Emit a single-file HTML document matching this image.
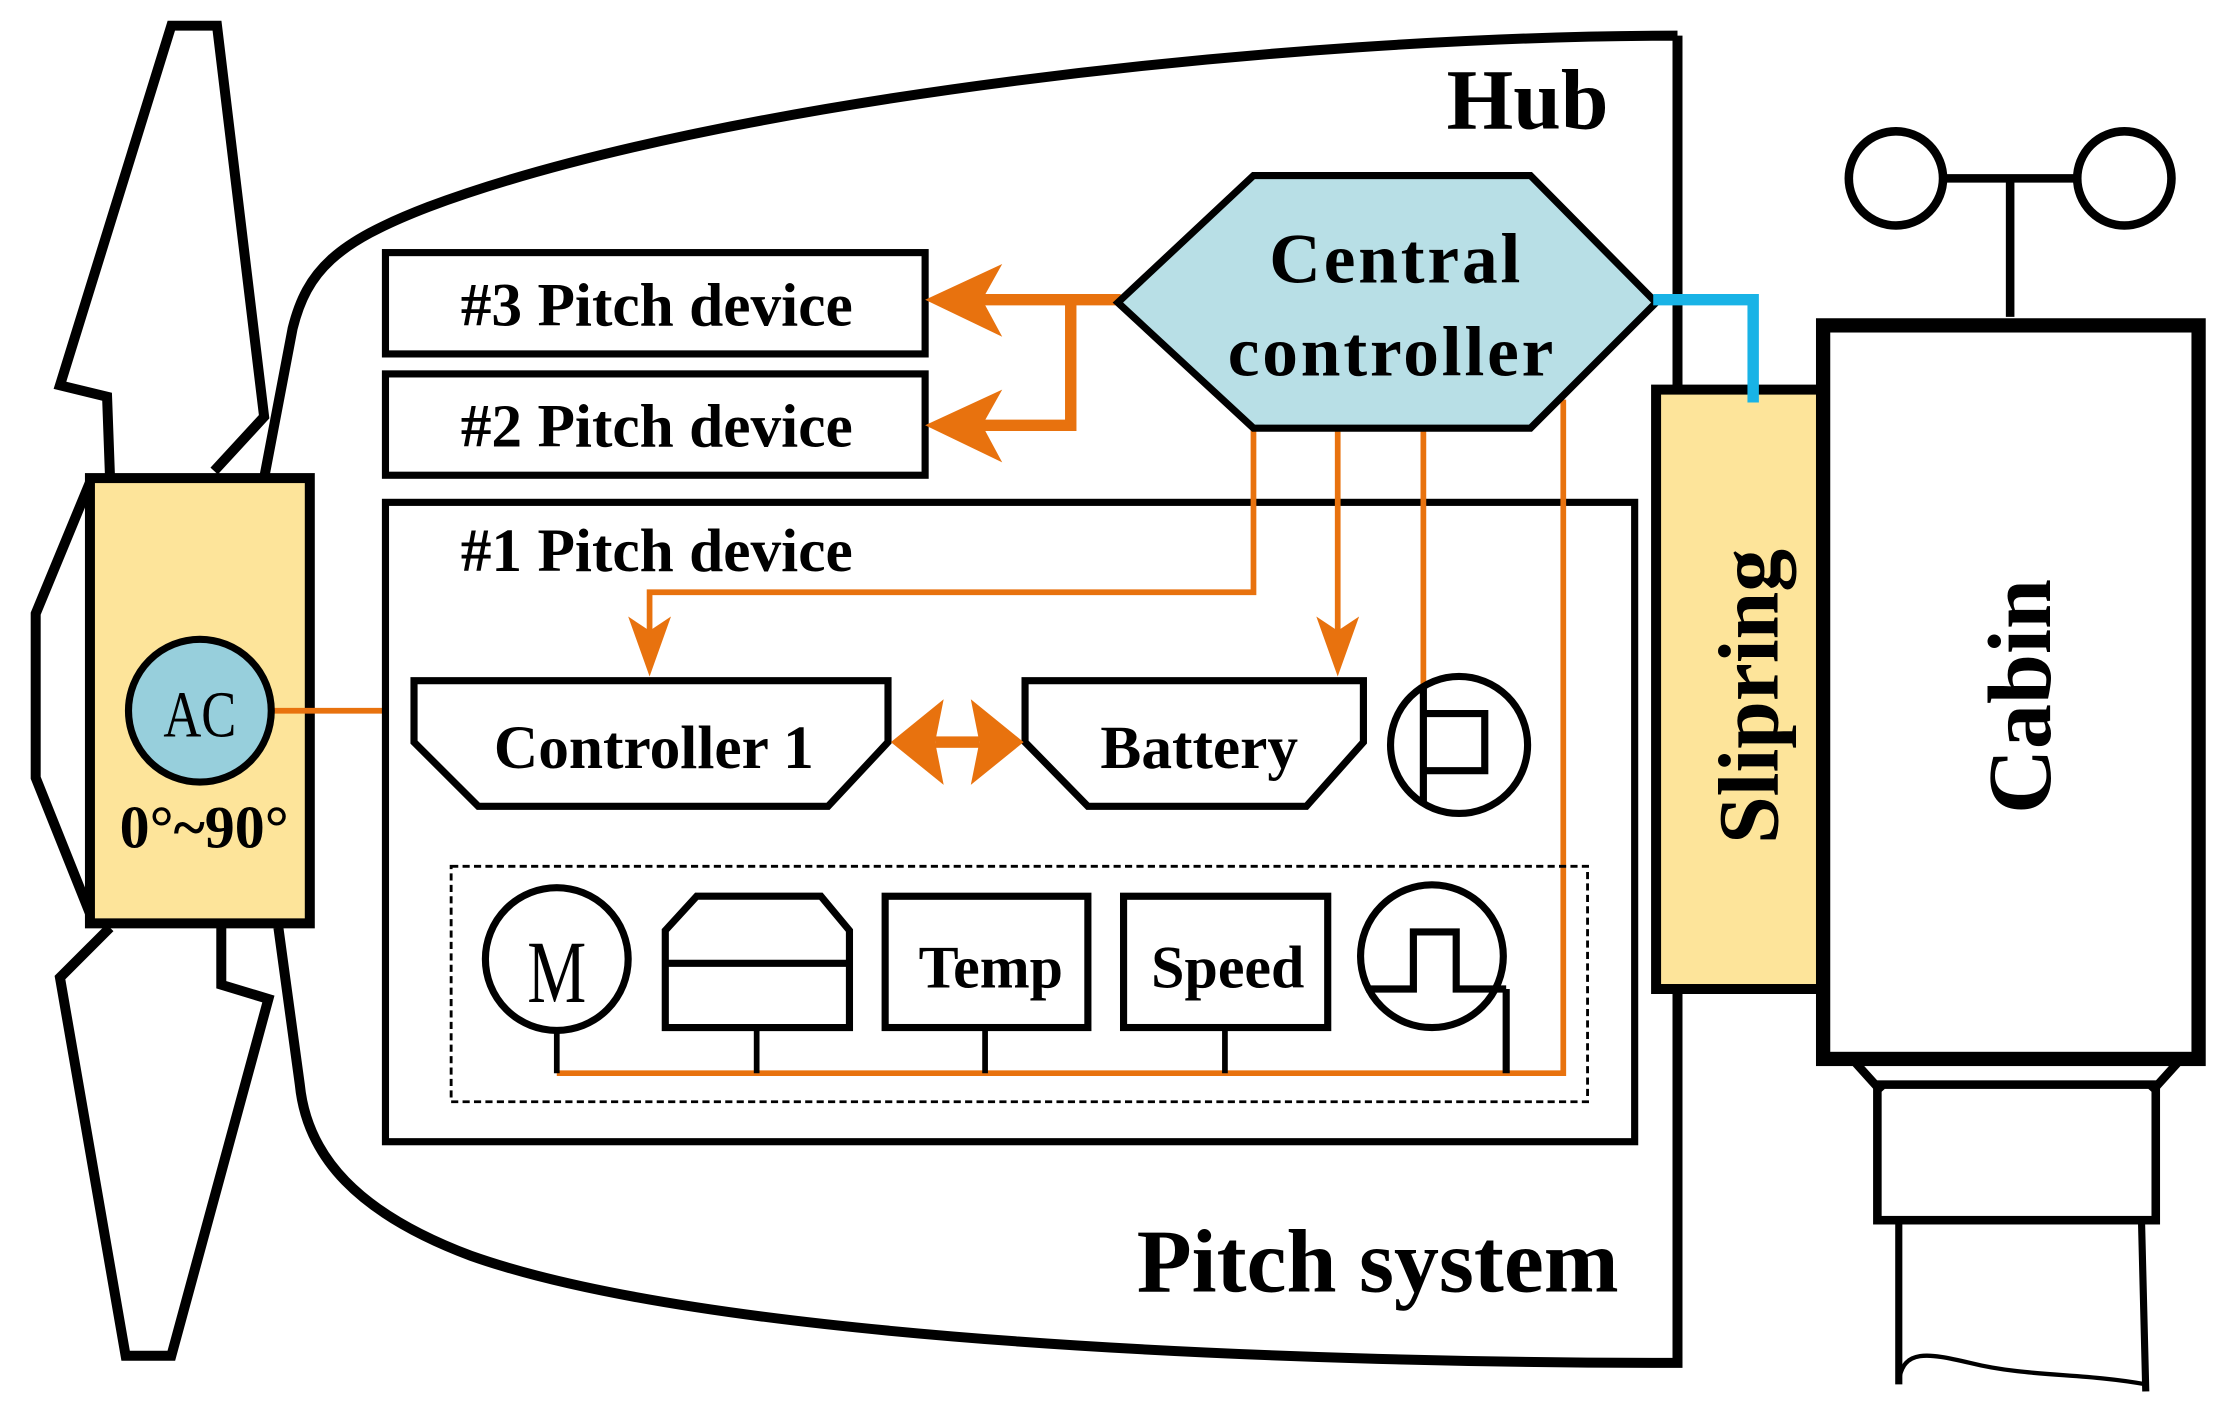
<!DOCTYPE html>
<html><head><meta charset="utf-8"><style>
html,body{margin:0;padding:0;background:#fff;}
svg{display:block;}
text{font-family:"Liberation Serif",serif;}
</style></head><body>
<svg width="2230" height="1420" viewBox="0 0 1562 995" preserveAspectRatio="none" xmlns="http://www.w3.org/2000/svg">
<g fill="none" stroke="#000" stroke-linejoin="miter">
<path d="M1175,25 L1175,955 C900,955 500,940 330,880 C250,850 215,810 210,760 L195,650 M185,335 L205,230 C215,190 235,170 300,145 C500,70 900,25 1175,25" stroke-width="7"/>
<path d="M77,333 L75,278 L42,270 L120,18 L152,18 L185,292 L150,330" stroke-width="7"/>
<path d="M77,650 L42,685 L88,950 L120,950 L188,700 L155,690 L155,650" stroke-width="7"/>
<path d="M63,338 L25,430 L25,545 L63,640" stroke-width="7"/>
</g>
<rect x="63" y="335" width="154" height="312" fill="#fde49a" stroke="#000" stroke-width="7"/>
<line x1="190" y1="498" x2="290" y2="498" stroke="#e8720e" stroke-width="4"/>
<circle cx="140" cy="498" r="50" fill="#97cfdc" stroke="#000" stroke-width="5"/>
<text x="140" y="516" font-size="46" text-anchor="middle" transform="translate(140 0) scale(0.8 1) translate(-140 0)">AC</text>
<text x="143" y="594" font-size="42" font-weight="bold" text-anchor="middle">0°~90°</text>

<text x="1070" y="90" font-size="60" font-weight="bold" text-anchor="middle">Hub</text>
<text x="965" y="905" font-size="63" font-weight="bold" text-anchor="middle">Pitch system</text>

<g fill="#fff" stroke="#000" stroke-width="5">
<rect x="270" y="177" width="378" height="71"/>
<rect x="270" y="262" width="378" height="71"/>
<rect x="270" y="352" width="875" height="448"/>
</g>
<text x="460" y="228" font-size="43" font-weight="bold" text-anchor="middle">#3 Pitch device</text>
<text x="460" y="313" font-size="43" font-weight="bold" text-anchor="middle">#2 Pitch device</text>
<text x="460" y="400" font-size="43" font-weight="bold" text-anchor="middle">#1 Pitch device</text>

<g fill="none" stroke="#e8720e" stroke-width="4">
<path d="M878,300 L878,415 L455,415 L455,450"/>
<path d="M937,300 L937,450"/>
<path d="M997,300 L997,485"/>
<path d="M1095,280 L1095,752 L390,752"/>
</g>
<g fill="#e8720e">
<polygon points="455,474 440,432 455,442 470,432"/>
<polygon points="937,474 922,432 937,442 952,432"/>
</g>
<g fill="none" stroke="#e8720e" stroke-width="8">
<path d="M785,210 L680,210"/>
<path d="M750,210 L750,298 L680,298"/>
</g>
<g fill="#e8720e">
<polygon points="648,210 702,185 688,210 702,236"/>
<polygon points="648,298 702,273 688,298 702,324"/>
</g>

<polygon points="783,212 878,123 1072,123 1160,212 1072,300 878,300" fill="#b8dfe6" stroke="#000" stroke-width="5"/>
<text x="978" y="198" font-size="50" font-weight="bold" text-anchor="middle" letter-spacing="2">Central</text>
<text x="975" y="263" font-size="50" font-weight="bold" text-anchor="middle" letter-spacing="2">controller</text>

<polygon points="290,477 622,477 622,520 580,565 335,565 290,520" fill="#fff" stroke="#000" stroke-width="5"/>
<polygon points="718,477 955,477 955,520 915,565 762,565 718,520" fill="#fff" stroke="#000" stroke-width="5"/>
<text x="458" y="538" font-size="43" font-weight="bold" text-anchor="middle">Controller 1</text>
<text x="840" y="538" font-size="43" font-weight="bold" text-anchor="middle">Battery</text>
<g fill="#e8720e">
<polygon points="624,520 661,490 655,520 661,550"/>
<polygon points="717,520 680,490 686,520 680,550"/>
<rect x="655" y="516" width="31" height="8"/>
</g>

<circle cx="1022" cy="522" r="48" fill="none" stroke="#000" stroke-width="5"/>
<path d="M997,480 L997,562 M997,500 L1040,500 L1040,540 L997,540" fill="none" stroke="#000" stroke-width="5"/>

<rect x="316" y="607" width="796" height="165" fill="none" stroke="#000" stroke-width="2" stroke-dasharray="5,3"/>

<g fill="none" stroke="#000" stroke-width="4">
<line x1="390" y1="722" x2="390" y2="752"/>
<line x1="530" y1="720" x2="530" y2="752"/>
<line x1="690" y1="720" x2="690" y2="752"/>
<line x1="858" y1="720" x2="858" y2="752"/>
<path d="M1055,693 L1055,752" stroke-width="5"/>
</g>
<g fill="#fff" stroke="#000" stroke-width="5">
<circle cx="390" cy="672" r="50"/>
<polygon points="466,652 488,628 575,628 595,652 595,720 466,720"/>
<rect x="620" y="628" width="142" height="92"/>
<rect x="787" y="628" width="143" height="92"/>
</g>
<line x1="466" y1="675" x2="595" y2="675" stroke="#000" stroke-width="5"/>
<circle cx="1003" cy="670" r="50" fill="none" stroke="#000" stroke-width="5"/>
<path d="M957,693 L990,693 L990,653 L1020,653 L1020,693 L1055,693" fill="none" stroke="#000" stroke-width="5"/>
<text x="390" y="702" font-size="62" text-anchor="middle" transform="translate(390 0) scale(0.75 1) translate(-390 0)">M</text>
<text x="694" y="692" font-size="42" font-weight="bold" text-anchor="middle">Temp</text>
<text x="860" y="692" font-size="42" font-weight="bold" text-anchor="middle">Speed</text>

<rect x="1160" y="273" width="127" height="420" fill="#fde49a" stroke="#000" stroke-width="7"/>
<path d="M1158,210 L1228,210 L1228,282" fill="none" stroke="#19b3e6" stroke-width="8"/>
<text transform="translate(1245 488) rotate(-90)" font-size="60" font-weight="bold" text-anchor="middle">Slipring</text>

<rect x="1277" y="228" width="263" height="514" fill="#fff" stroke="#000" stroke-width="10"/>
<text transform="translate(1436 488) rotate(-90)" font-size="63" font-weight="bold" text-anchor="middle">Cabin</text>
<g fill="none" stroke="#000" stroke-width="6">
<line x1="1408" y1="222" x2="1408" y2="125"/>
<line x1="1360" y1="125" x2="1456" y2="125"/>
<circle cx="1328" cy="125" r="33"/>
<circle cx="1488" cy="125" r="33"/>
<path d="M1300,745 L1318,765 M1525,745 L1507,765"/>
<rect x="1315" y="760" width="195" height="95"/>
<path d="M1330,855 L1330,970 M1500,855 L1503,975" stroke-width="5"/>
<path d="M1330,968 C1333,945 1350,948 1380,955 C1420,965 1460,962 1503,970" stroke-width="3"/>
</g>
</svg>
</body></html>
